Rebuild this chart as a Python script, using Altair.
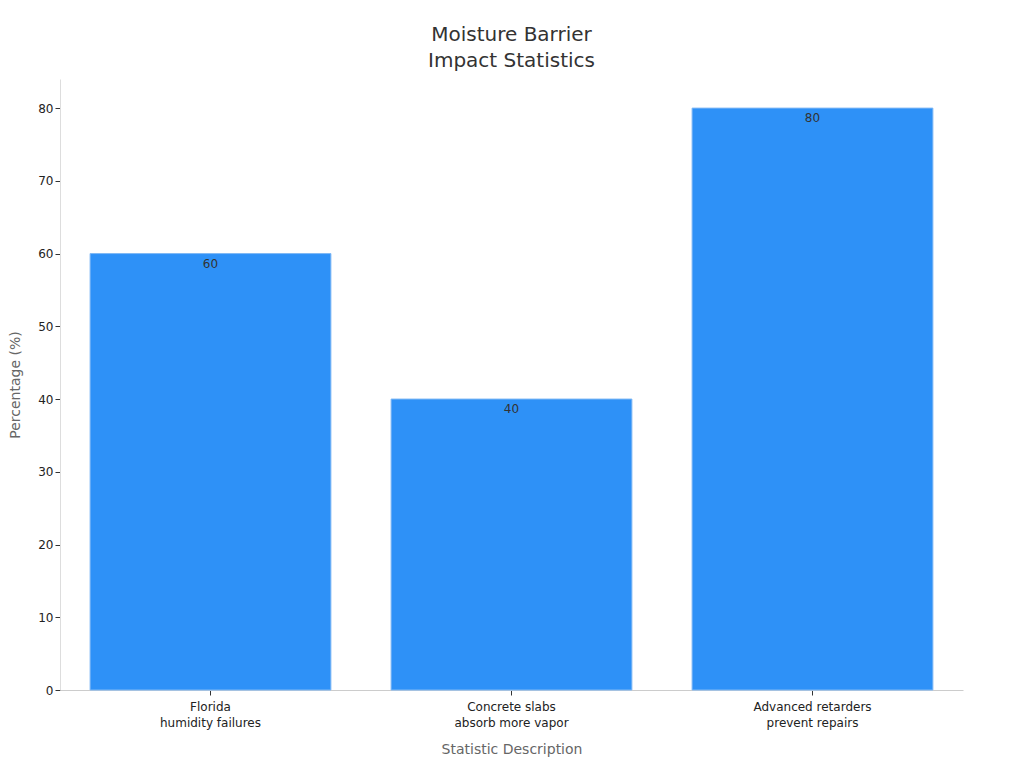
import altair as alt
import pandas as pd

categories = ["Florida|humidity failures", "Concrete slabs|absorb more vapor", "Advanced retarders|prevent repairs"]
values = [60, 40, 80]

df = pd.DataFrame({"cat": categories, "val": values})

FONT = "DejaVu Sans"

base = alt.Chart(df).encode(
    x=alt.X("cat:N", sort=categories, title="Statistic Description",
            scale=alt.Scale(paddingInner=0.2, paddingOuter=0.1),
            axis=alt.Axis(labelAngle=0, labelExpr="split(datum.label, '|')",
                          labelFontSize=12, labelColor="#222", labelFont=FONT,
                          titleFontSize=14, titleColor="#666", titleFont=FONT, titleFontWeight="normal",
                          titlePadding=14, domainColor="#ccc", tickColor="#333", labelPadding=6,
                          labelLineHeight=16)),
    y=alt.Y("val:Q", title="Percentage (%)",
            scale=alt.Scale(domain=[0, 84], nice=False),
            axis=alt.Axis(values=[0, 10, 20, 30, 40, 50, 60, 70, 80], grid=False,
                          labelFontSize=12, labelColor="#222", labelFont=FONT,
                          titleFontSize=14, titleColor="#666", titleFont=FONT, titleFontWeight="normal",
                          titlePadding=15, domainColor="#ddd", tickColor="#333")),
)

bars = base.mark_bar(color="#2E91F7", stroke="#7fb8f5", strokeWidth=1)
labels = base.mark_text(baseline="top", dy=5, fontSize=12, color="#333", font=FONT).encode(
    text=alt.Text("val:Q"))

chart = (bars + labels).properties(
    width=903, height=611,
    padding={"top": 17, "left": 0, "right": 5, "bottom": 5},
    title=alt.TitleParams(["Moisture Barrier", "Impact Statistics"], fontSize=20, font=FONT,
                          color="#333", fontWeight="normal", anchor="middle", offset=8, lineHeight=26),
).configure(background="white").configure_view(strokeWidth=0, stroke=None)

chart.save("out.html", embed_options={"renderer": "svg", "actions": False})
